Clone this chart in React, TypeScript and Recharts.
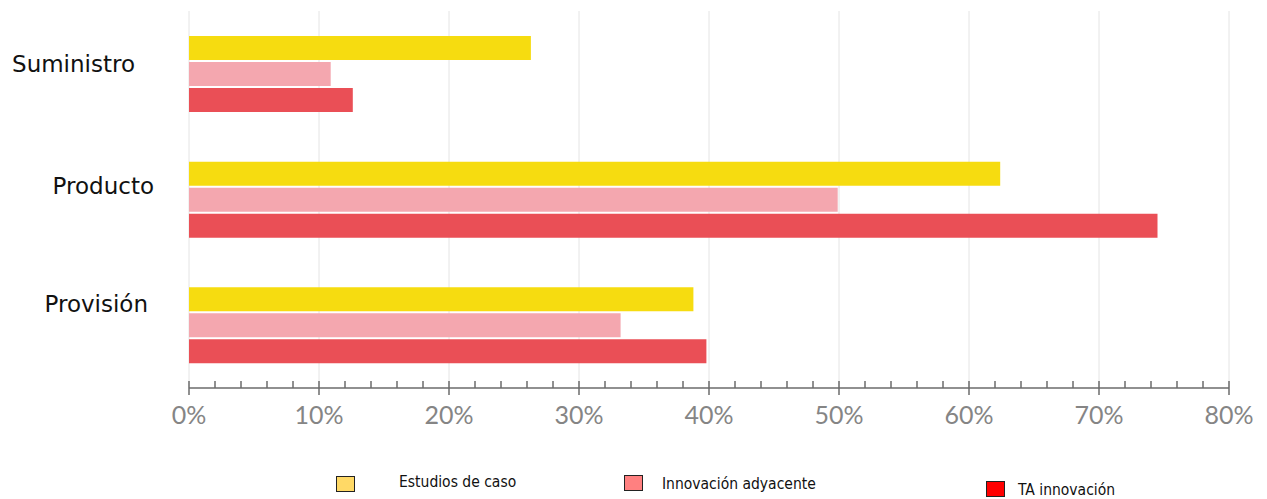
import { BarChart, Bar, XAxis, YAxis, CartesianGrid } from "recharts";

const CATEGORIES = ["Suministro", "Producto", "Provisión"];
const ESTUDIOS = [26.3, 62.4, 38.8];
const ADYACENTE = [10.9, 49.9, 33.2];
const TA = [12.6, 74.5, 39.8];
const X_TICKS = [0, 2, 4, 6, 8, 10, 12, 14, 16, 18, 20, 22, 24, 26, 28, 30, 32, 34, 36, 38, 40, 42, 44, 46, 48, 50, 52, 54, 56, 58, 60, 62, 64, 66, 68, 70, 72, 74, 76, 78, 80];
const GRID_VALUES = [0, 10, 20, 30, 40, 50, 60, 70, 80];
const LEGEND = ["Estudios de caso", "Innovación adyacente", "TA innovación"];

// label nudges to match the original's loose placement
const LABEL_OFFSET: Record<string, { dx: number; dy: number }> = {
  Suministro: { dx: -46, dy: -10 },
  Producto: { dx: -27, dy: -14 },
  Provisión: { dx: -33, dy: -21 },
};

const data = CATEGORIES.map((name, i) => ({
  name,
  estudios: ESTUDIOS[i],
  adyacente: ADYACENTE[i],
  ta: TA[i],
}));

function CatTick({ x, y, payload }: any) {
  const off = LABEL_OFFSET[payload.value] ?? { dx: 0, dy: 0 };
  return (
    <text
      x={x + off.dx}
      y={y + off.dy}
      textAnchor="end"
      dominantBaseline="central"
      fontFamily="DejaVu Sans"
      fontSize={23}
      fill="#111"
    >
      {payload.value}
    </text>
  );
}

function PctTick({ x, y, payload }: any) {
  const major = payload.value % 10 === 0;
  const base = y - 8;
  return (
    <g>
      <line x1={x} x2={x} y1={base - 7} y2={major ? base + 7 : base} stroke="#6b6b6b" strokeWidth={1.5} />
      {major && (
        <text x={x} y={base + 36} textAnchor="middle" fontFamily="Lato" fontSize={25} fill="#858585">
          {payload.value}%
        </text>
      )}
    </g>
  );
}

const legendColors = ["#FFD966", "#FF8080", "#FF0000"];
const legendPos = [
  { left: 336, top: 476, textLeft: 399, textTop: 473 },
  { left: 624, top: 475, textLeft: 662, textTop: 475 },
  { left: 986, top: 481, textLeft: 1018, textTop: 481 },
];

export default function App() {
  return (
    <div style={{ position: "absolute", left: 0, top: 0, width: 1267, height: 499, background: "#fff" }}>
      <BarChart
        width={1267}
        height={499}
        data={data}
        layout="vertical"
        margin={{ top: 11, right: 38, bottom: 51, left: 0 }}
        barSize={24}
        barGap={2}
      >
        <CartesianGrid stroke="#e4e4e4" horizontal={false} verticalValues={GRID_VALUES} />
        <XAxis
          type="number"
          domain={[0, 80]}
          ticks={X_TICKS}
          interval={0}
          height={60}
          axisLine={{ stroke: "#6b6b6b", strokeWidth: 1.5 }}
          tickLine={false}
          tick={<PctTick />}
        />
        <YAxis type="category" dataKey="name" width={189} axisLine={false} tickLine={false} tick={<CatTick />} />
        <Bar dataKey="estudios" fill="#F6DC10" isAnimationActive={false} />
        <Bar dataKey="adyacente" fill="#F4A7AF" isAnimationActive={false} />
        <Bar dataKey="ta" fill="#EA4F56" isAnimationActive={false} />
      </BarChart>
      {LEGEND.map((label, i) => (
        <div key={label}>
          <div
            style={{
              position: "absolute",
              left: legendPos[i].left,
              top: legendPos[i].top,
              width: 17,
              height: 14,
              background: legendColors[i],
              border: "1.5px solid #222",
            }}
          />
          <div
            style={{
              position: "absolute",
              left: legendPos[i].textLeft,
              top: legendPos[i].textTop,
              fontFamily: "DejaVu Sans Condensed",
              fontSize: 15.5,
              color: "#111",
              whiteSpace: "nowrap",
            }}
          >
            {label}
          </div>
        </div>
      ))}
    </div>
  );
}
